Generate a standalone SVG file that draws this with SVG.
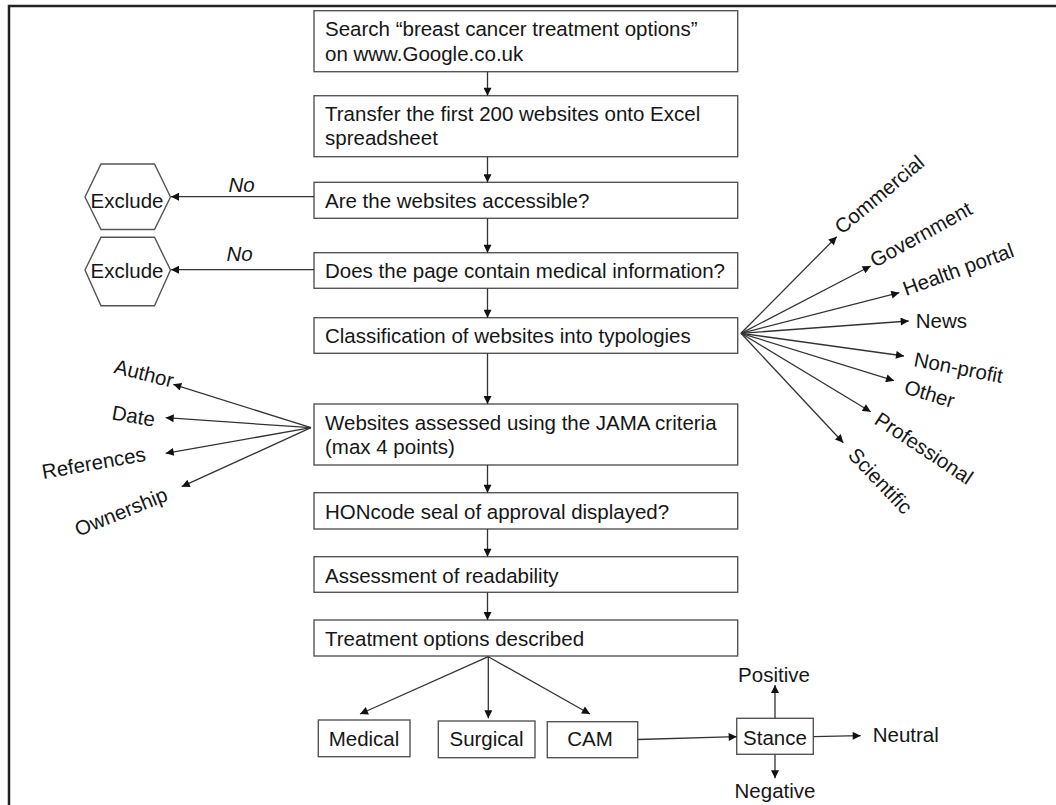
<svg xmlns="http://www.w3.org/2000/svg" width="1056" height="805" viewBox="0 0 1056 805">
<defs>
<style>
.bx{fill:#fff;stroke:#555;stroke-width:1.4}
.t{font-family:"Liberation Sans",Arial,sans-serif;font-size:20.5px;fill:#161616}
.i{font-style:italic}
.ln{stroke:#333;stroke-width:1.3;fill:none;marker-end:url(#ah)}
.fr{stroke:#222;stroke-width:2.5;fill:none}
</style>
<marker id="ah" viewBox="0 0 10 10" refX="10" refY="5" markerWidth="9" markerHeight="8" markerUnits="userSpaceOnUse" orient="auto"><path d="M0,0 L10,5 L0,10 z" fill="#111"/></marker>
</defs>
<rect width="1056" height="805" fill="#fff"/>
<path class="fr" d="M9,805 V6 H1056"/>

<g id="n1"><rect class="bx" x="314" y="10.7" width="423.7" height="61"/><text class="t" x="325" y="36">Search “breast cancer treatment options”</text><text class="t" x="325" y="61">on www.Google.co.uk</text></g>
<g id="n2"><rect class="bx" x="314" y="95.7" width="423.7" height="61"/><text class="t" x="325" y="120.5">Transfer the first 200 websites onto Excel</text><text class="t" x="325" y="145">spreadsheet</text></g>
<g id="n3"><rect class="bx" x="314" y="182.3" width="423.7" height="36"/><text class="t" x="325" y="208.3">Are the websites accessible?</text></g>
<g id="n4"><rect class="bx" x="314" y="252.7" width="423.7" height="35.6"/><text class="t" x="325" y="278.3">Does the page contain medical information?</text></g>
<g id="n5"><rect class="bx" x="314" y="317.7" width="423.7" height="35.6"/><text class="t" x="325" y="343.3">Classification of websites into typologies</text></g>
<g id="n6"><rect class="bx" x="314" y="404" width="423.7" height="61"/><text class="t" x="325" y="430">Websites assessed using the JAMA criteria</text><text class="t" x="325" y="454">(max 4 points)</text></g>
<g id="n7"><rect class="bx" x="314" y="492.7" width="423.7" height="36.3"/><text class="t" x="325" y="518.5">HONcode seal of approval displayed?</text></g>
<g id="n8"><rect class="bx" x="314" y="556.7" width="423.7" height="35.6"/><text class="t" x="325" y="582.5">Assessment of readability</text></g>
<g id="n9"><rect class="bx" x="314" y="620" width="423.7" height="36"/><text class="t" x="325" y="646">Treatment options described</text></g>

<g id="ex1"><polygon class="bx" points="85,197 101,164 154.5,164 170.5,197 154.5,229.5 101,229.5"/><text class="t" x="127" y="208.3" text-anchor="middle">Exclude</text></g>
<g id="ex2"><polygon class="bx" points="85,270 101,237.3 154.5,237.3 170.5,270 154.5,305.7 101,305.7"/><text class="t" x="127" y="278.3" text-anchor="middle">Exclude</text></g>

<g id="medical"><rect class="bx" x="318.3" y="720" width="91.7" height="36.7"/><text class="t" x="364" y="746" text-anchor="middle">Medical</text></g>
<g id="surgical"><rect class="bx" x="438.3" y="721" width="96.7" height="36.7"/><text class="t" x="486.5" y="746" text-anchor="middle">Surgical</text></g>
<g id="cam"><rect class="bx" x="547.3" y="721.7" width="90.4" height="36"/><text class="t" x="590" y="746" text-anchor="middle">CAM</text></g>
<g id="stance"><rect class="bx" x="736.7" y="718.3" width="76.6" height="36"/><text class="t" x="775" y="745" text-anchor="middle">Stance</text></g>

<g id="labels">
<text class="t i" x="228.5" y="191.7">No</text>
<text class="t i" x="226.5" y="260.7">No</text>
<text class="t" transform="translate(842,235) rotate(-40)">Commercial</text>
<text class="t" transform="translate(875,268) rotate(-29)">Government</text>
<text class="t" transform="translate(906,296) rotate(-20)">Health portal</text>
<text class="t" x="915.7" y="328.3">News</text>
<text class="t" transform="translate(913,366) rotate(11)">Non-profit</text>
<text class="t" transform="translate(903,393) rotate(17)">Other</text>
<text class="t" transform="translate(873,423) rotate(33.5)">Professional</text>
<text class="t" transform="translate(847,456) rotate(46.5)">Scientific</text>
<text class="t" transform="translate(113,372.7) rotate(14.4)">Author</text>
<text class="t" transform="translate(111,419.3) rotate(9.7)">Date</text>
<text class="t" transform="translate(43.3,479) rotate(-10)">References</text>
<text class="t" transform="translate(78.3,536.7) rotate(-22)">Ownership</text>
<text class="t" x="774" y="681.7" text-anchor="middle">Positive</text>
<text class="t" x="872.7" y="741.7">Neutral</text>
<text class="t" x="775" y="798.3" text-anchor="middle">Negative</text>
</g>

<g id="connectors">
<line class="ln" x1="487.5" y1="71.7" x2="487.5" y2="95.7"/>
<line class="ln" x1="487.5" y1="156.7" x2="487.5" y2="182.3"/>
<line class="ln" x1="487.5" y1="218.3" x2="487.5" y2="252.7"/>
<line class="ln" x1="487.5" y1="288.3" x2="487.5" y2="317.7"/>
<line class="ln" x1="487.5" y1="353.3" x2="487.5" y2="404"/>
<line class="ln" x1="487.5" y1="465" x2="487.5" y2="492.7"/>
<line class="ln" x1="487.5" y1="529" x2="487.5" y2="556.7"/>
<line class="ln" x1="487.5" y1="592.3" x2="487.5" y2="620"/>
<line class="ln" x1="314" y1="196.7" x2="171" y2="196.7"/>
<line class="ln" x1="314" y1="269.7" x2="171" y2="269.7"/>
<line class="ln" x1="741" y1="333.3" x2="836.7" y2="236.7"/>
<line class="ln" x1="741" y1="333.3" x2="870.7" y2="266"/>
<line class="ln" x1="741" y1="333.3" x2="899.3" y2="292.7"/>
<line class="ln" x1="741" y1="333.3" x2="908.7" y2="321"/>
<line class="ln" x1="741" y1="333.3" x2="904" y2="356"/>
<line class="ln" x1="741" y1="333.3" x2="894" y2="380.7"/>
<line class="ln" x1="741" y1="333.3" x2="870.7" y2="411.7"/>
<line class="ln" x1="741" y1="333.3" x2="843.3" y2="442.7"/>
<line class="ln" x1="311" y1="427.7" x2="173.3" y2="384.3"/>
<line class="ln" x1="311" y1="427.7" x2="165.7" y2="417.7"/>
<line class="ln" x1="311" y1="427.7" x2="165.7" y2="453.3"/>
<line class="ln" x1="311" y1="427.7" x2="181.7" y2="486.7"/>
<line class="ln" x1="488.3" y1="656.7" x2="360" y2="714"/>
<line class="ln" x1="488.3" y1="656.7" x2="488.3" y2="718.3"/>
<line class="ln" x1="488.3" y1="656.7" x2="590" y2="714"/>
<line class="ln" x1="637.7" y1="739.5" x2="736.7" y2="736.7"/>
<line class="ln" x1="775" y1="718.3" x2="775" y2="685"/>
<line class="ln" x1="813.3" y1="736.7" x2="860.7" y2="735.7"/>
<line class="ln" x1="775" y1="754.3" x2="775" y2="778.3"/>
</g>
</svg>
